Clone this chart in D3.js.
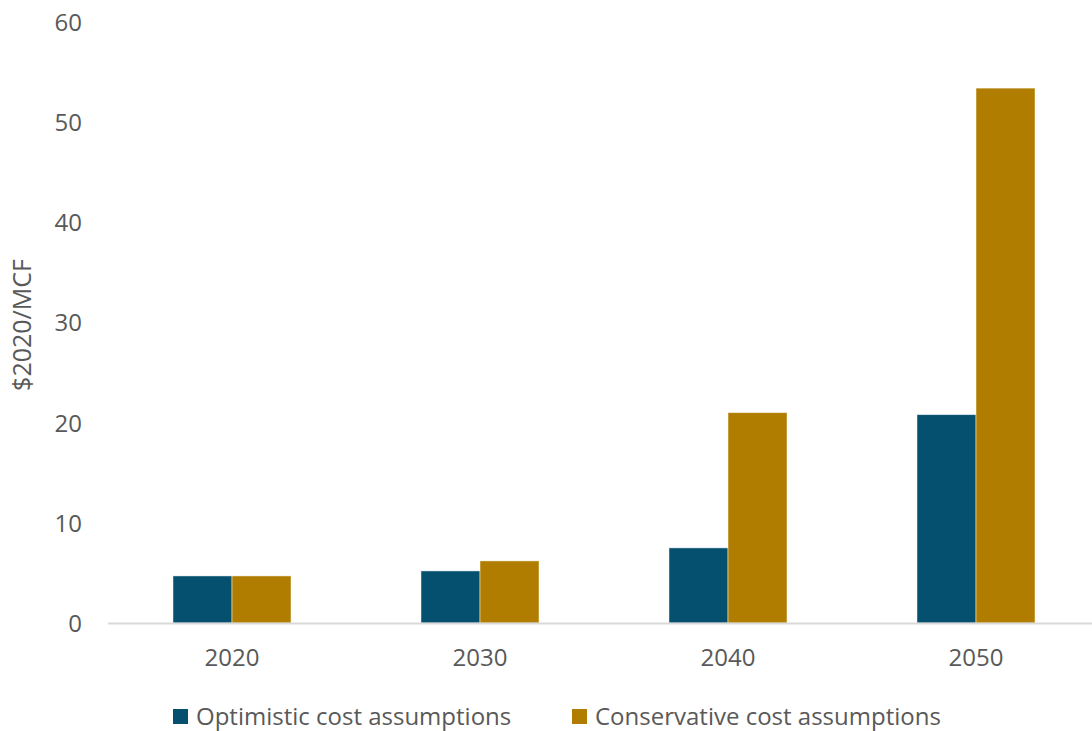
<!DOCTYPE html>
<html>
<head>
<meta charset="utf-8">
<script src="https://cdn.jsdelivr.net/npm/d3@7"></script>
<style>
  body { margin: 0; background: #fff; }
  text { font-family: "Open Sans", sans-serif; fill: #595959; }
</style>
</head>
<body>
<svg id="svg" width="1092" height="731"></svg>
<script>
// chart data
const years = ['2020', '2030', '2040', '2050'];
const seriesNames = ['Optimistic cost assumptions', 'Conservative cost assumptions'];
const optimistic = [4.7, 5.2, 7.5, 20.8];
const conservative = [4.7, 6.2, 21.0, 53.4];
const yTicks = [0, 10, 20, 30, 40, 50, 60];
const colors = ['#05506E', '#B07D00'];

const width = 1092, height = 731;
const plot = {left: 108, right: 1100, top: 22, bottom: 623};

const svg = d3.select('#svg');

const x0 = d3.scaleBand()
  .domain(years)
  .range([plot.left, plot.right])
  .paddingInner(0.524)
  .paddingOuter(0.262);

const x1 = d3.scaleBand()
  .domain(seriesNames)
  .range([0, x0.bandwidth()]);

const y = d3.scaleLinear()
  .domain([0, 60])
  .range([plot.bottom, plot.top]);

const rows = years.map((yr, i) => ({year: yr, values: [optimistic[i], conservative[i]]}));

// bars
const group = svg.append('g').selectAll('g')
  .data(rows)
  .enter()
  .append('g')
  .attr('transform', d => `translate(${x0(d.year)},0)`);

group.selectAll('rect')
  .data(d => d.values.map((v, k) => ({name: seriesNames[k], value: v, k: k})))
  .enter()
  .append('rect')
  .attr('x', d => x1(d.name))
  .attr('y', d => y(d.value))
  .attr('width', x1.bandwidth())
  .attr('height', d => y(0) - y(d.value))
  .attr('fill', d => colors[d.k])
  .attr('stroke', 'rgba(255,255,255,0.6)')
  .attr('stroke-width', 0.8);

// y axis (labels only)
const yAxis = svg.append('g')
  .attr('transform', `translate(${plot.left - 26},0)`)
  .call(d3.axisLeft(y).tickValues(yTicks).tickSize(0).tickPadding(0));
yAxis.select('.domain').remove();
yAxis.selectAll('text')
  .style('font-size', '24px')
  .attr('dy', '0.35em')
  .attr('fill', '#595959');

// x axis
const xAxis = svg.append('g')
  .attr('transform', `translate(0,${plot.bottom})`)
  .call(d3.axisBottom(x0).tickSize(0).tickPadding(26));
xAxis.select('.domain')
  .attr('d', `M${plot.left},0.5H${width}`)
  .attr('stroke', '#d9d9d9')
  .attr('stroke-width', 2);
xAxis.selectAll('text')
  .style('font-size', '24px')
  .attr('fill', '#595959');

// y axis title
svg.append('text')
  .attr('transform', `translate(31,325) rotate(-90)`)
  .attr('text-anchor', 'middle')
  .style('font-size', '25px')
  .text('$2020/MCF');

// legend
const legendX = [173, 572];
const legend = svg.append('g').selectAll('g')
  .data(seriesNames)
  .enter()
  .append('g')
  .attr('transform', (d, i) => `translate(${legendX[i]},709)`);

legend.append('rect')
  .attr('width', 15)
  .attr('height', 15)
  .attr('fill', (d, i) => colors[i]);

legend.append('text')
  .attr('x', 23)
  .attr('y', 7.5)
  .attr('dy', '0.35em')
  .style('font-size', '24px')
  .text(d => d);
</script>
</body>
</html>
